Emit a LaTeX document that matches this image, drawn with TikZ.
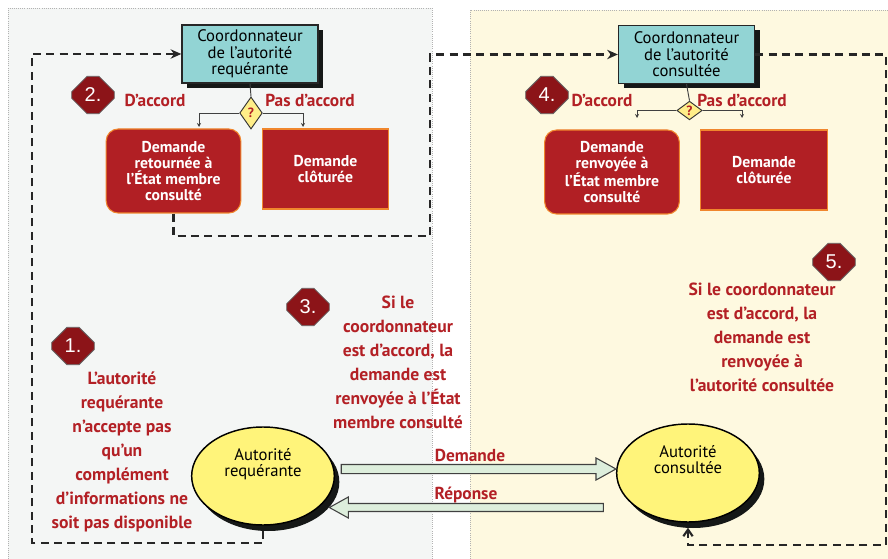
\documentclass[tikz,border=0pt]{standalone}
\usepackage{fontspec}
\setmainfont{PT Sans}
\newfontfamily\numfont{Liberation Sans}
\usetikzlibrary{shapes.geometric,shapes.misc,shapes.arrows,arrows.meta,calc}

\definecolor{panelgray}{HTML}{F4F6F5}
\definecolor{panelcream}{HTML}{FEF9E0}
\definecolor{coordcyan}{HTML}{92D4D4}
\definecolor{boxred}{HTML}{B11F24}
\definecolor{edgeorange}{HTML}{F0862D}
\definecolor{textred}{HTML}{B32025}
\definecolor{octored}{HTML}{8C1418}
\definecolor{authyellow}{HTML}{FFF47A}
\definecolor{askyellow}{HTML}{FFEE88}
\definecolor{arrowgreen}{HTML}{DDEEDC}
\definecolor{shadowdark}{HTML}{151817}

\tikzset{
	panelline/.style={draw=black!30,densely dotted,line width=0.6pt},
	shadowfill/.style={fill=shadowdark},
	coordbox/.style={draw=black!85,line width=1pt,fill=coordcyan,align=center,
		minimum width=102pt,minimum height=43.5pt,inner sep=1pt,
		font=\fontsize{12.5}{12.5}\selectfont},
	redround/.style={draw=edgeorange,line width=0.8pt,fill=boxred,text=white,align=center,
		rounded corners=9pt,minimum width=101pt,minimum height=63pt,inner sep=1pt,
		font=\bfseries\fontsize{11.8}{11.8}\selectfont},
	redrect/.style={draw=edgeorange,line width=0.8pt,fill=boxred,text=white,align=center,
		minimum width=95pt,minimum height=60pt,inner sep=1pt,
		font=\bfseries\fontsize{11.8}{11.8}\selectfont},
	ask/.style={diamond,draw=black!80,line width=0.7pt,fill=askyellow,text=textred,
		inner sep=0pt,font=\bfseries\fontsize{10}{10}\selectfont},
	branch/.style={draw=black!75,line width=0.7pt},
	tip/.style={-{Stealth[length=3pt,width=3pt]}},
	authority/.style={ellipse,draw=black,line width=1.1pt,fill=authyellow,align=center,
		minimum width=107pt,minimum height=73.5pt,inner sep=0pt,
		font=\fontsize{12.5}{12.5}\selectfont},
	fatarrow/.style={single arrow,draw=black!75,line width=0.8pt,fill=arrowgreen,
		inner xsep=0pt,single arrow head extend=4.9pt,single arrow tip angle=58},
	octo/.style={chamfered rectangle,chamfered rectangle xsep=7pt,chamfered rectangle ysep=7pt,
		draw=black!60,line width=0.6pt,fill=octored,text=white,inner sep=0pt,
		minimum width=32pt,minimum height=28pt,font=\numfont\fontsize{15}{15}\selectfont},
	redlabel/.style={text=textred,font=\bfseries\fontsize{13}{14}\selectfont},
	note/.style={text=textred,align=center,font=\bfseries\fontsize{13.2}{18}\selectfont},
	flow/.style={draw=black!85,line width=1.6pt,dash pattern=on 6pt off 4pt},
}

\begin{document}
\begin{tikzpicture}[x=0.75pt,y=-0.75pt]
	\useasboundingbox (0,0) rectangle (888,559);
	% panels
	\fill[panelgray] (8,8) rectangle (432,559);
	\draw[panelline] (8,559) -- (8,8) -- (432,8) -- (432,559);
	\fill[panelcream] (470,10) rectangle (888,559);
	\draw[panelline] (470,559) -- (470,10) -- (888,10);

	% shadows
	\fill[shadowfill] (187,30) rectangle (323,88);
	\fill[shadowfill] (623.5,30.5) rectangle (759.5,88.5);
	\fill[shadowfill] (268,482) ellipse [x radius=53.5pt,y radius=36.75pt];
	\fill[shadowfill] (693,479) ellipse [x radius=53.5pt,y radius=36.75pt];

	\node[coordbox] (A) at (250,54) {Coordonnateur\\de l’autorité\\requérante};
	\node[coordbox] (B) at (686.5,54.5) {Coordonnateur\\de l’autorité\\consultée};
	\node[redround] (C) at (173.5,171) {Demande\\retournée à\\l’État membre\\consulté};
	\node[redrect] (D) at (325.5,169) {Demande\\clôturée};
	\node[redround] (E) at (612,172) {Demande\\renvoyée à\\l’État membre\\consulté};
	\node[redrect] (F) at (764,170) {Demande\\clôturée};
	\node[ask,minimum width=17pt,minimum height=24pt] (I) at (251,113) {?};
	\node[ask,minimum width=19pt,minimum height=14pt] (J) at (689.5,110.5) {?};
	\node[authority] (G) at (263,476) {Autorité\\requérante\\[8pt]};
	\node[authority] (H) at (688,473) {Autorité\\consultée\\[8pt]};
	\node[fatarrow,minimum height=206pt,inner ysep=3pt] (U) at (474.5,469) {};
	\node[fatarrow,minimum height=205.5pt,inner ysep=2.6pt,shape border rotate=180] (V) at (470,507.5) {};

	\node[octo] (K1) at (73,346) {1.};
	\node[octo] (K2) at (93,95) {2.};
	\node[octo] (K3) at (308,307) {3.};
	\node[octo] (K4) at (547,95) {4.};
	\node[octo] (K5) at (834,262) {5.};

	\node[redlabel] (L1) at (155,100) {D’accord};
	\node[redlabel] (L2) at (310,100) {Pas d’accord};
	\node[redlabel] (L3) at (602,100) {D’accord};
	\node[redlabel] (L4) at (742,100) {Pas d’accord};
	\node[redlabel] (L5) at (470,455) {Demande};
	\node[redlabel] (L6) at (466,495) {Réponse};

	\node[note] (P) at (122,452) {L’autorité\\requérante\\n’accepte pas\\qu’un\\complément\\d’informations ne\\soit pas disponible};
	\node[note] (R) at (398,362.5) {Si le\\coordonnateur\\est d’accord, la\\demande est\\renvoyée à l’État\\membre consulté};
	\node[note] (S) at (762,337) {Si le coordonnateur\\est d’accord, la\\demande est\\renvoyée à\\l’autorité consultée};

	\coordinate (I1) at (199,127);
	\coordinate (I2) at (303,127);
	\coordinate (J1) at (637,118);
	\coordinate (J2) at (742,118);

	\draw[branch] (A.south) -- (I.north);
	\draw[branch,tip] (I.west) -| (I1);
	\draw[branch,tip] (I.east) -| (I2);
	\draw[branch] (B.south) -- (J.north);
	\draw[branch,tip] (J.west) -| (J1);
	\draw[branch,tip] (J.east) -| (J2);

	\draw[flow,-{Stealth[length=8pt,width=7pt]}] ($(G.south)+(0,5)$) |- (32,543) |- (A.west);
	\draw[flow,-{Stealth[length=8pt,width=7pt]}] (C.south) |- (430,236) |- (B.west);
	\draw[flow,-{Straight Barb[length=5pt,width=7pt]}] (B.east) -| (886,545) -| ($(H.south)+(0,5)$);
\end{tikzpicture}
\end{document}
